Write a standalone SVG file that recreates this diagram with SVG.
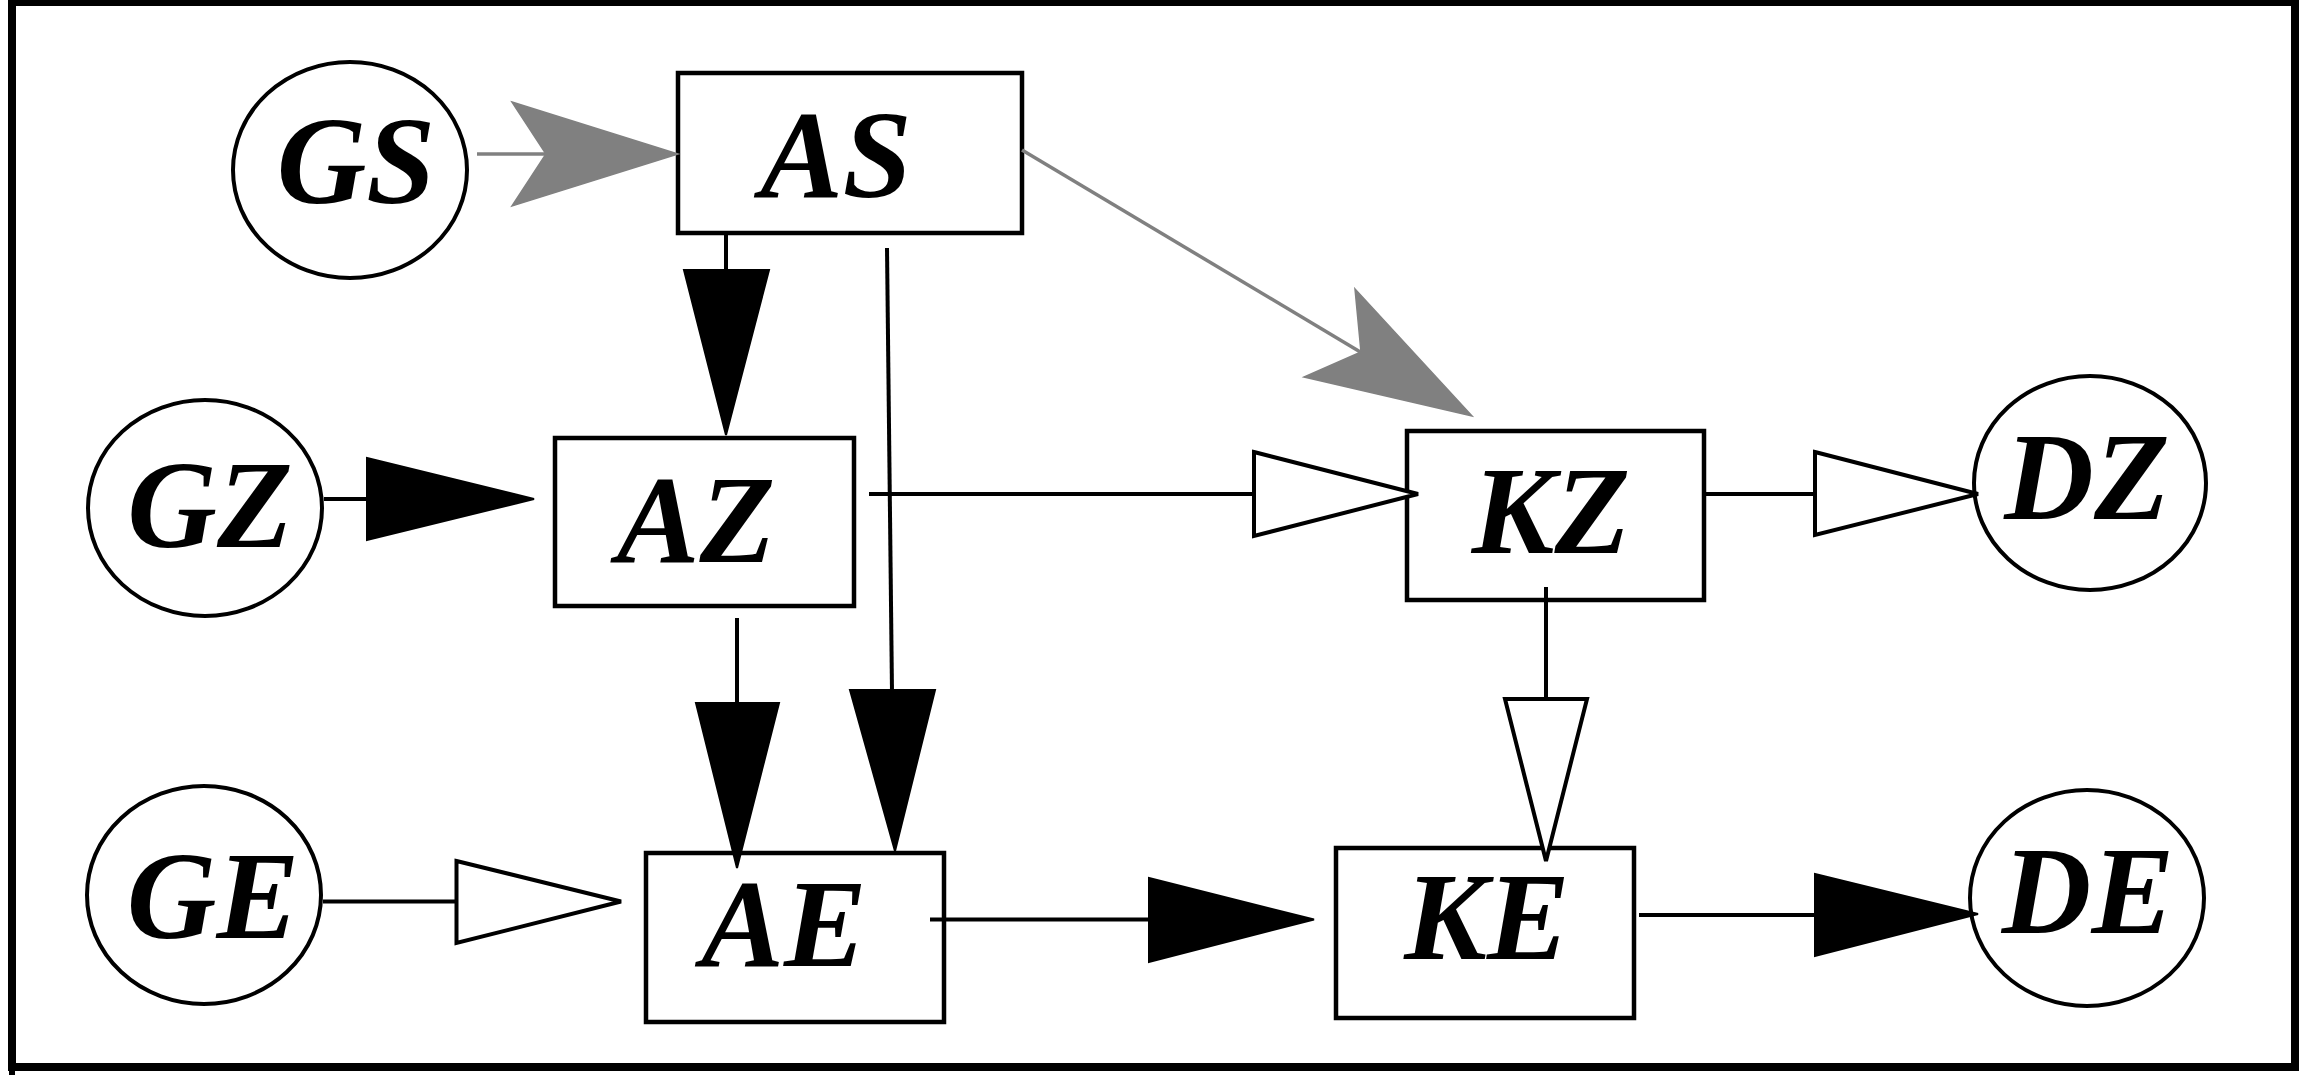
<svg xmlns="http://www.w3.org/2000/svg" width="2300" height="1075" viewBox="0 0 2300 1075">
<style>
.frame{fill:none;stroke:#000;stroke-width:8}
.box{fill:#fff;stroke:#000;stroke-width:4.5}
.ell{fill:#fff;stroke:#000;stroke-width:4}
.lbl{font-family:"Liberation Serif","Times New Roman",serif;font-weight:bold;font-style:italic;font-size:124px;fill:#000;text-anchor:middle}
.ln{stroke:#000;stroke-width:4;fill:none}
.lg{stroke:#808080;stroke-width:3.5;fill:none}
.hb{fill:#000;stroke:#000;stroke-width:2;stroke-linejoin:miter}
.ho{fill:#fff;stroke:#000;stroke-width:4;stroke-linejoin:miter}
.hg{fill:#808080;stroke:#808080;stroke-width:1.5}
</style>
<rect width="2300" height="1075" fill="#fff"/>
<rect class="frame" x="12" y="2" width="2283" height="1065"/>
<line x1="12" y1="1067" x2="12" y2="1075" stroke="#000" stroke-width="6"/>

<g id="GS"><ellipse class="ell" cx="350" cy="170" rx="117" ry="108"/><text class="lbl" x="356" y="203">GS</text></g>
<g id="AS"><rect class="box" x="678" y="73" width="344" height="160"/><text class="lbl" x="836" y="197">AS</text></g>
<g id="GZ"><ellipse class="ell" cx="205" cy="508" rx="117" ry="108"/><text class="lbl" x="210" y="547">GZ</text></g>
<g id="AZ"><rect class="box" x="555" y="438" width="299" height="168"/><text class="lbl" x="696" y="562">AZ</text></g>
<g id="KZ"><rect class="box" x="1407" y="431" width="297" height="169"/><text class="lbl" x="1551" y="553">KZ</text></g>
<g id="DZ"><ellipse class="ell" cx="2090" cy="483" rx="116" ry="107"/><text class="lbl" x="2087" y="519">DZ</text></g>
<g id="GE"><ellipse class="ell" cx="204" cy="895" rx="117" ry="109"/><text class="lbl" x="213" y="938">GE</text></g>
<g id="AE"><rect class="box" x="646" y="853" width="298" height="169"/><text class="lbl" x="784" y="966">AE</text></g>
<g id="KE"><rect class="box" x="1336" y="848" width="298" height="170"/><text class="lbl" x="1487" y="959">KE</text></g>
<g id="DE"><ellipse class="ell" cx="2087" cy="898" rx="117" ry="108"/><text class="lbl" x="2088" y="933">DE</text></g>

<g id="connectors">
  <!-- GS -> AS -->
  <line class="lg" x1="477" y1="154" x2="548" y2="154"/>
  <polygon class="hg" points="512,102 678,154 512,206 546,154"/>
  <!-- AS -> KZ -->
  <line class="lg" x1="1022" y1="150" x2="1362" y2="353"/>
  <polygon class="hg" points="1355,289 1472,416 1304,377 1361,352"/>
  <!-- AS -> AZ -->
  <line class="ln" x1="726" y1="233" x2="726" y2="272"/>
  <polygon class="hb" points="684,270 769,270 726,435"/>
  <!-- AS -> AE -->
  <line class="ln" x1="887" y1="248" x2="892" y2="692"/>
  <polygon class="hb" points="850,690 935,690 895,851"/>
  <!-- GZ -> AZ -->
  <line class="ln" x1="324" y1="499" x2="369" y2="499"/>
  <polygon class="hb" points="367,458 534,499 367,540"/>
  <!-- AZ -> KZ -->
  <line class="ln" x1="869" y1="494" x2="1256" y2="494"/>
  <polygon class="ho" points="1254,452 1418,494 1254,536"/>
  <!-- KZ -> DZ -->
  <line class="ln" x1="1704" y1="494" x2="1817" y2="494"/>
  <polygon class="ho" points="1815,452 1978,494 1815,535"/>
  <!-- AZ -> AE -->
  <line class="ln" x1="737" y1="618" x2="737" y2="705"/>
  <polygon class="hb" points="696,703 779,703 737,868"/>
  <!-- KZ -> KE -->
  <line class="ln" x1="1546" y1="587" x2="1546" y2="701"/>
  <polygon class="ho" points="1505,699 1587,699 1546,861"/>
  <!-- GE -> AE -->
  <line class="ln" x1="323" y1="901.5" x2="458" y2="901.5"/>
  <polygon class="ho" points="456.5,861 621,901.5 456.5,943"/>
  <!-- AE -> KE -->
  <line class="ln" x1="930" y1="919.5" x2="1151" y2="919.5"/>
  <polygon class="hb" points="1149,878 1314,919.5 1149,962"/>
  <!-- KE -> DE -->
  <line class="ln" x1="1639" y1="915" x2="1817" y2="915"/>
  <polygon class="hb" points="1815,874 1978,914 1815,956"/>
</g>
</svg>
